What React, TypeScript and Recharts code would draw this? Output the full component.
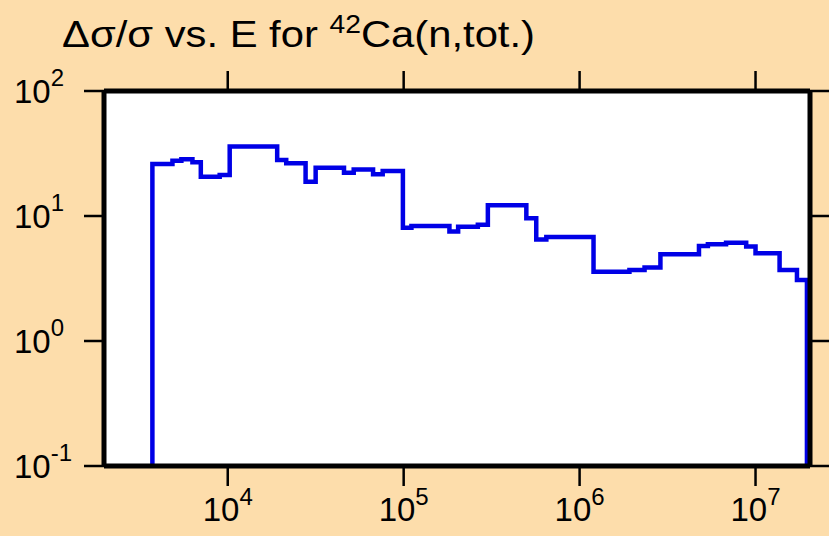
import React from 'react';
import { LineChart, Line, XAxis, YAxis, CartesianGrid } from 'recharts';

if (typeof document !== 'undefined') document.body.style.margin = '0';

// lower bin edges (eV) and relative uncertainty (%) of each bin
const binEdges = [
  3730, 4850, 5450, 6300, 7030, 9000, 10260, 19100, 21500, 27700, 31600, 45800,
  52000, 67000, 76000, 99000, 110700, 182000, 204000, 264000, 301000, 498000,
  567000, 647000, 1.2e6, 1.92e6, 2.34e6, 2.88e6, 4.77e6, 5.36e6, 6.8e6, 8.85e6,
  1.0e7, 1.37e7, 1.72e7,
];
const relErr = [
  26.1, 27.7, 28.4, 26.9, 20.6, 21.3, 35.9, 28.0, 26.4, 18.8, 24.3, 22.2,
  23.6, 21.6, 22.9, 8.07, 8.3, 7.5, 8.2, 8.5, 12.2, 9.6,
  6.5, 6.8, 3.58, 3.7, 3.88, 4.94, 5.75, 5.94, 6.12, 5.69,
  5.03, 3.7, 3.08,
];
const upperEdge = 1.96e7;

const xTicks = [1e4, 1e5, 1e6, 1e7];
const xTickExp = ['4', '5', '6', '7'];
const yTicks = [0.1, 1, 10, 100];
const yTickExp = ['-1', '0', '1', '2'];

const X_DOMAIN: [number, number] = [1980, 2.04e7];
const Y_DOMAIN: [number, number] = [0.1, 100];

const FONT = '"Liberation Sans", Arial, Helvetica, sans-serif';
const BG = '#FDDDAB';

// histogram drawn as a step line, closed down to the axis floor at both ends
const data = [
  { e: binEdges[0], v: Y_DOMAIN[0] },
  ...binEdges.map((e, i) => ({ e, v: relErr[i] })),
  { e: upperEdge, v: relErr[relErr.length - 1] },
  { e: upperEdge, v: Y_DOMAIN[0] },
];

const BottomTick = (props: any) => {
  const { x, y, payload } = props;
  const exp = xTickExp[xTicks.indexOf(payload.value)];
  return (
    <text x={x} y={y + 35} textAnchor="middle" fontSize={33} fontFamily={FONT} fill="#000">
      10<tspan dy={-16} fontSize={24}>{exp}</tspan>
    </text>
  );
};

const LeftTick = (props: any) => {
  const { x, y, payload } = props;
  const exp = yTickExp[yTicks.indexOf(payload.value)];
  return (
    <text x={x - 70} y={y + 12} textAnchor="start" fontSize={33} fontFamily={FONT} fill="#000">
      10<tspan dy={-17} fontSize={24}>{exp}</tspan>
    </text>
  );
};

const NoLabel = () => <g />;

const frame = { stroke: '#000', strokeWidth: 5 };
const tickStroke = { stroke: '#000', strokeWidth: 2.5 };

export default function App() {
  return (
    <div style={{ position: 'relative', width: 829, height: 536, background: BG, overflow: 'hidden' }}>
      <LineChart width={829} height={536} data={data} margin={{ top: 0, right: 0, bottom: 0, left: 0 }}>
        <CartesianGrid xAxisId="b" yAxisId="l" fill="#fff" horizontal={false} vertical={false} />
        <XAxis
          xAxisId="b"
          dataKey="e"
          type="number"
          scale="log"
          domain={X_DOMAIN}
          allowDataOverflow
          ticks={xTicks}
          interval={0}
          orientation="bottom"
          height={70}
          tickSize={20}
          tickMargin={0}
          axisLine={frame}
          tickLine={tickStroke}
          tick={<BottomTick />}
        />
        <XAxis
          xAxisId="t"
          dataKey="e"
          type="number"
          scale="log"
          domain={X_DOMAIN}
          allowDataOverflow
          ticks={xTicks}
          interval={0}
          orientation="top"
          height={91}
          tickSize={20}
          axisLine={frame}
          tickLine={tickStroke}
          tick={<NoLabel />}
        />
        <YAxis
          yAxisId="l"
          type="number"
          scale="log"
          domain={Y_DOMAIN}
          allowDataOverflow
          ticks={yTicks}
          interval={0}
          orientation="left"
          width={104}
          tickSize={20}
          tickMargin={0}
          axisLine={frame}
          tickLine={tickStroke}
          tick={<LeftTick />}
        />
        <YAxis
          yAxisId="r"
          type="number"
          scale="log"
          domain={Y_DOMAIN}
          allowDataOverflow
          ticks={yTicks}
          interval={0}
          orientation="right"
          width={19}
          tickSize={19}
          axisLine={frame}
          tickLine={tickStroke}
          tick={<NoLabel />}
        />
        <Line
          xAxisId="b"
          yAxisId="l"
          type="stepAfter"
          dataKey="v"
          stroke="#0000E6"
          strokeWidth={4.5}
          dot={false}
          isAnimationActive={false}
        />
      </LineChart>
      <svg width={829} height={70} style={{ position: 'absolute', left: 0, top: 0 }}>
        <text
          x={62}
          y={47}
          fontSize={37}
          fontFamily={FONT}
          fill="#000"
          textLength={473}
          lengthAdjust="spacingAndGlyphs"
        >
          Δσ/σ vs. E for <tspan dy={-14} fontSize={25}>42</tspan>
          <tspan dy={14}>Ca(n,tot.)</tspan>
        </text>
      </svg>
    </div>
  );
}
